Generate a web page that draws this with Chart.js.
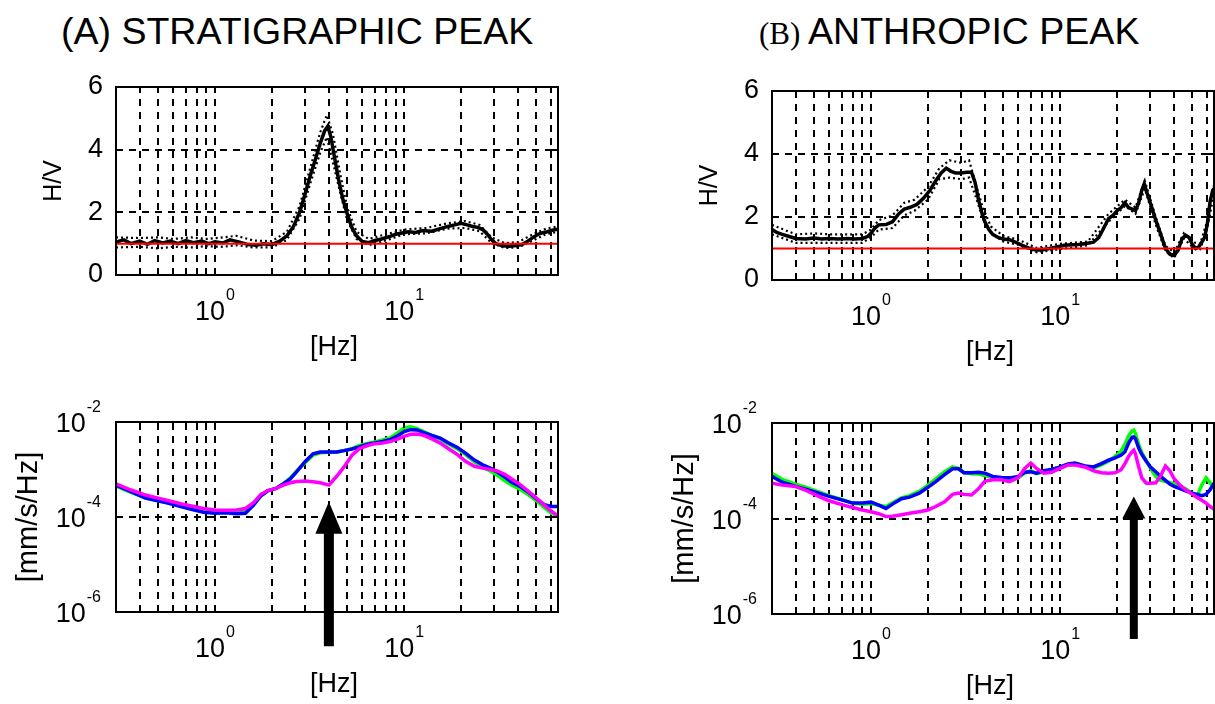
<!DOCTYPE html>
<html lang="en">
<head>
<meta charset="utf-8">
<title>H/V peaks</title>
<script src="https://cdn.jsdelivr.net/npm/chart.js@4.4.1/dist/chart.umd.min.js"></script>
<style>
    html, body { margin: 0; padding: 0; background: #fff; overflow: hidden; }
    body { position: relative; width: 1215px; height: 704px; }
    canvas { position: absolute; }
    .title { position: absolute; top: 13px; font: 37.5px/37px "Liberation Sans", Arial, sans-serif; color: #000; white-space: nowrap; }
    .title .tag { font-family: "Liberation Serif", "Times New Roman", serif; font-size: 31px; }
</style>
</head>
<body>
<div class="title" style="left: 61px;">(A) STRATIGRAPHIC PEAK</div>
<div class="title" style="left: 759px;"><span class="tag">(B) </span>ANTHROPIC PEAK</div>
<canvas id="hv-a"></canvas>
<canvas id="hv-b"></canvas>
<canvas id="psd-a"></canvas>
<canvas id="psd-b"></canvas>
<script>
// frequency axis, shared by every panel
const hzMin = 0.3;
const hzMax = 65;
const hzTicks = [0.4, 0.5, 0.6, 0.7, 0.8, 0.9, 1, 2, 3, 4, 5, 6, 7, 8, 9, 10, 20, 30, 40, 50, 60];
const hzLabelValues = [1, 10];
const hzLabelPowers = ['0', '1'];

// H/V axis
const hvTicks = [0, 2, 4, 6];
const hvLabels = ['0', '2', '4', '6'];
const hvUnit = [1, 1];

// spectrum axis
const psdTicks = [1e-6, 1e-4, 1e-2];
const psdLabelPowers = ['-6', '-4', '-2'];

// (A) H/V curve
const freqA = [0.3, 0.33, 0.36, 0.4, 0.44, 0.48, 0.53, 0.58, 0.64, 0.7,
    0.77, 0.85, 0.93, 1.0, 1.1, 1.2, 1.35, 1.5, 1.65, 1.8,
    2.0, 2.2, 2.4, 2.6, 2.8, 3.0, 3.2, 3.4, 3.6, 3.8,
    3.95, 4.1, 4.3, 4.5, 4.75, 5.0, 5.3, 5.6, 6.0, 6.5,
    7.0, 7.6, 8.3, 9.0, 9.6, 10.5, 11.5, 12.5, 14, 15.5,
    17, 18.5, 20, 21.5, 23, 24.5, 26, 27.5, 29, 30.5,
    33, 36, 39, 42, 45, 48, 51, 54, 57, 60,
    63, 65];
const hvA = [1.05, 1.12, 1.0, 1.08, 0.98, 1.1, 1.02, 1.08, 1.0, 1.1,
    1.03, 1.08, 1.0, 1.06, 1.02, 1.12, 1.05, 0.97, 0.95, 1.0,
    0.97, 1.08, 1.25, 1.55, 2.0, 2.6, 3.2, 3.7, 4.2, 4.6,
    4.75, 4.4, 3.7, 3.05, 2.4, 1.95, 1.5, 1.25, 1.07, 1.03,
    1.1, 1.15, 1.22, 1.3, 1.33, 1.38, 1.36, 1.42, 1.4, 1.48,
    1.55, 1.6, 1.65, 1.6, 1.55, 1.52, 1.45, 1.3, 1.12, 1.0,
    0.93, 0.92, 0.94, 0.97, 1.08, 1.2, 1.3, 1.35, 1.38, 1.42,
    1.45, 1.45];
const freqAStd = [0.3, 0.4, 0.5, 0.6, 0.75, 0.9, 1.1, 1.3, 1.6, 2.0,
    2.4, 2.8, 3.2, 3.6, 3.9, 4.2, 4.6, 5.0, 5.6, 6.5,
    8, 10, 13, 17, 21, 25, 29, 34, 40, 48,
    56, 65];
const hvAUpper = [1.2, 1.18, 1.2, 1.15, 1.2, 1.15, 1.2, 1.25, 1.1, 1.08,
    1.38, 2.2, 3.45, 4.55, 5.1, 4.5, 3.2, 2.15, 1.38, 1.15,
    1.3, 1.45, 1.5, 1.65, 1.72, 1.6, 1.2, 1.02, 1.05, 1.3,
    1.48, 1.55];
const hvALower = [0.88, 0.9, 0.85, 0.9, 0.88, 0.92, 0.9, 0.95, 0.88, 0.88,
    1.12, 1.8, 2.95, 3.9, 4.4, 3.6, 2.6, 1.75, 1.15, 0.95,
    1.1, 1.3, 1.33, 1.48, 1.5, 1.4, 1.02, 0.86, 0.88, 1.1,
    1.3, 1.38];

// (B) H/V curve
const freqB = [0.3, 0.32, 0.34, 0.37, 0.4, 0.45, 0.5, 0.55, 0.6, 0.67,
    0.75, 0.82, 0.9, 0.96, 1.0, 1.05, 1.1, 1.2, 1.3, 1.4,
    1.5, 1.6, 1.75, 1.9, 2.05, 2.2, 2.35, 2.5, 2.65, 2.8,
    3.0, 3.2, 3.4, 3.55, 3.7, 3.85, 4.0, 4.2, 4.4, 4.7,
    5.0, 5.4, 5.8, 6.3, 6.8, 7.4, 8.0, 8.8, 9.6, 10.5,
    11.5, 12.5, 13.7, 15, 16, 17, 18, 19, 20, 21,
    22, 23, 24, 25, 26, 27, 27.8, 29, 30.5, 32,
    34, 36, 38, 40, 42, 44, 46, 48, 50, 52,
    54, 56, 58, 60, 62, 64, 65];
const hvB = [1.6, 1.5, 1.45, 1.38, 1.32, 1.3, 1.33, 1.3, 1.32, 1.3,
    1.32, 1.3, 1.32, 1.38, 1.48, 1.65, 1.75, 1.76, 1.85, 2.1,
    2.25, 2.3, 2.4, 2.6, 2.85, 3.15, 3.4, 3.55, 3.45, 3.4,
    3.4, 3.42, 3.42, 3.1, 2.55, 2.15, 1.85, 1.6, 1.45, 1.35,
    1.3, 1.28, 1.2, 1.1, 1.02, 0.95, 0.95, 1.0, 1.05, 1.1,
    1.12, 1.13, 1.16, 1.2, 1.35, 1.65, 1.95, 2.05, 2.2, 2.3,
    2.45, 2.3, 2.25, 2.2, 2.45, 2.85, 3.05, 2.7, 2.3, 1.9,
    1.45, 1.0, 0.82, 0.78, 0.95, 1.3, 1.42, 1.35, 1.12, 1.0,
    1.05, 1.2, 1.35, 1.8, 2.5, 2.85, 2.9];
const freqBStd = [0.3, 0.4, 0.5, 0.6, 0.75, 0.9, 1.0, 1.1, 1.3, 1.5,
    1.7, 2.0, 2.3, 2.6, 3.0, 3.3, 3.6, 3.9, 4.3, 5,
    6, 7.5, 10, 14, 18, 22, 25, 28, 32, 36,
    40, 45, 50, 55, 60, 65];
const hvBUpper = [1.75, 1.45, 1.48, 1.45, 1.45, 1.45, 1.6, 1.9, 2.05, 2.45,
    2.55, 2.95, 3.55, 3.8, 3.72, 3.8, 3.0, 2.3, 1.7, 1.4,
    1.28, 1.02, 1.15, 1.22, 2.1, 2.55, 2.3, 3.15, 2.0, 1.08,
    0.88, 1.48, 1.2, 1.15, 1.9, 3.0];
const hvBLower = [1.45, 1.18, 1.18, 1.18, 1.18, 1.18, 1.35, 1.6, 1.65, 2.05,
    2.2, 2.55, 3.2, 3.25, 3.2, 3.25, 2.6, 1.95, 1.5, 1.22,
    1.12, 0.88, 0.98, 1.1, 1.85, 2.35, 2.1, 2.9, 1.75, 0.92,
    0.7, 1.32, 1.05, 0.98, 1.65, 2.75];

// (A) spectra, mm/s/Hz
const freqSA = [0.3, 0.36, 0.43, 0.5, 0.57, 0.66, 0.75, 0.87, 1.0, 1.15,
    1.3, 1.45, 1.6, 1.75, 1.9, 2.1, 2.3, 2.5, 2.7, 3.0,
    3.3, 3.6, 4.0, 4.4, 4.8, 5.3, 5.8, 6.4, 7.0, 7.7,
    8.5, 9.3, 10, 10.8, 11.7, 12.7, 14, 15.5, 17, 19,
    21, 23.5, 26, 28.5, 31, 34, 37, 41, 45, 50,
    55, 60, 65];
const blueA = [4.7e-4, 3.4e-4, 2.5e-4, 2.2e-4, 1.95e-4, 1.66e-4, 1.45e-4, 1.26e-4, 1.2e-4, 1.23e-4,
    1.17e-4, 1.2e-4, 1.78e-4, 2.8e-4, 3.55e-4, 4.0e-4, 5.0e-4, 6.3e-4, 8.9e-4, 1.48e-3,
    2.14e-3, 2.34e-3, 2.34e-3, 2.34e-3, 2.5e-3, 2.7e-3, 3.0e-3, 3.4e-3, 3.6e-3, 3.9e-3,
    4.3e-3, 5.2e-3, 6.3e-3, 6.9e-3, 6.8e-3, 6.0e-3, 5.2e-3, 4.6e-3, 3.7e-3, 2.95e-3,
    2.24e-3, 1.58e-3, 1.26e-3, 1.07e-3, 8.9e-4, 6.9e-4, 5.4e-4, 4.4e-4, 3.4e-4, 2.4e-4,
    1.82e-4, 1.66e-4, 1.66e-4];
const greenA = [4.5e-4, 3.3e-4, 2.5e-4, 2.2e-4, 2.0e-4, 1.74e-4, 1.51e-4, 1.38e-4, 1.26e-4, 1.26e-4,
    1.26e-4, 1.32e-4, 1.86e-4, 2.8e-4, 3.55e-4, 4.0e-4, 5.0e-4, 6.6e-4, 9.3e-4, 1.41e-3,
    2.0e-3, 2.24e-3, 2.3e-3, 2.3e-3, 2.5e-3, 2.75e-3, 3.2e-3, 3.55e-3, 3.8e-3, 4.2e-3,
    4.7e-3, 6.0e-3, 7.6e-3, 7.9e-3, 7.2e-3, 6.3e-3, 5.2e-3, 4.4e-3, 3.5e-3, 2.75e-3,
    2.1e-3, 1.45e-3, 1.12e-3, 9.3e-4, 7.6e-4, 5.75e-4, 4.7e-4, 3.8e-4, 3.0e-4, 2.2e-4,
    1.58e-4, 1.2e-4, 1.05e-4];
const magentaA = [5.0e-4, 3.7e-4, 2.9e-4, 2.5e-4, 2.2e-4, 1.9e-4, 1.7e-4, 1.51e-4, 1.41e-4, 1.38e-4,
    1.41e-4, 1.51e-4, 2.0e-4, 3.0e-4, 3.6e-4, 4.0e-4, 4.7e-4, 5.25e-4, 5.6e-4, 5.75e-4,
    5.5e-4, 5.25e-4, 4.7e-4, 7.2e-4, 1.12e-3, 2.0e-3, 2.75e-3, 3.2e-3, 3.5e-3, 3.6e-3,
    3.9e-3, 4.4e-3, 5.0e-3, 5.5e-3, 5.6e-3, 5.25e-3, 4.4e-3, 3.6e-3, 2.8e-3, 2.1e-3,
    1.51e-3, 1.17e-3, 1.07e-3, 1.0e-3, 9.3e-4, 7.9e-4, 6.3e-4, 4.8e-4, 3.55e-4, 2.5e-4,
    1.78e-4, 1.32e-4, 1.05e-4];

// (B) spectra, mm/s/Hz
const freqSB = [0.3, 0.34, 0.4, 0.46, 0.53, 0.6, 0.7, 0.8, 0.9, 1.0,
    1.1, 1.2, 1.3, 1.45, 1.6, 1.8, 2.0, 2.2, 2.45, 2.7,
    2.9, 3.1, 3.4, 3.7, 4.0, 4.4, 4.9, 5.4, 6.0, 6.5,
    7.0, 7.5, 8.2, 9.0, 10, 11, 12, 13.5, 15, 16.5,
    18, 19.5, 21, 22, 23, 24, 24.5, 25, 26, 27,
    28.5, 30, 32, 34, 36, 38, 40, 43, 46, 50,
    53, 56, 59, 62, 65];
const blueB = [7.6e-4, 5.75e-4, 4.7e-4, 4.0e-4, 3.4e-4, 2.9e-4, 2.45e-4, 2.1e-4, 2.1e-4, 2.2e-4,
    1.9e-4, 1.62e-4, 2.0e-4, 2.6e-4, 2.8e-4, 3.4e-4, 4.5e-4, 5.9e-4, 8.3e-4, 1.1e-3,
    1.1e-3, 9.1e-4, 9.1e-4, 9.3e-4, 8.9e-4, 7.6e-4, 7.2e-4, 7.1e-4, 7.6e-4, 9.3e-4,
    9.5e-4, 8.9e-4, 1.0e-3, 1.07e-3, 1.2e-3, 1.38e-3, 1.45e-3, 1.26e-3, 1.2e-3, 1.41e-3,
    1.66e-3, 1.86e-3, 2.14e-3, 2.5e-3, 3.8e-3, 5.0e-3, 5.1e-3, 4.7e-3, 3.0e-3, 2.2e-3,
    1.58e-3, 1.2e-3, 9.5e-4, 7.6e-4, 6.3e-4, 5.25e-4, 4.7e-4, 4.2e-4, 3.8e-4, 3.4e-4,
    3.2e-4, 3.0e-4, 3.2e-4, 4.0e-4, 5.5e-4];
const greenB = [8.7e-4, 6.6e-4, 5.25e-4, 4.4e-4, 3.6e-4, 3.0e-4, 2.5e-4, 2.1e-4, 2.0e-4, 2.05e-4,
    1.9e-4, 1.78e-4, 2.14e-4, 2.7e-4, 3.0e-4, 3.7e-4, 5.0e-4, 6.8e-4, 9.5e-4, 1.2e-3,
    1.12e-3, 9.1e-4, 8.7e-4, 8.5e-4, 7.9e-4, 7.2e-4, 6.9e-4, 6.3e-4, 7.1e-4, 8.9e-4,
    1.0e-3, 8.7e-4, 9.5e-4, 1.05e-3, 1.17e-3, 1.32e-3, 1.38e-3, 1.26e-3, 1.15e-3, 1.32e-3,
    1.58e-3, 2.0e-3, 2.6e-3, 3.55e-3, 5.4e-3, 6.9e-3, 7.1e-3, 6.0e-3, 3.55e-3, 2.4e-3,
    1.66e-3, 1.12e-3, 7.6e-4, 6.3e-4, 6.0e-4, 5.6e-4, 5.4e-4, 4.8e-4, 4.2e-4, 3.3e-4,
    3.0e-4, 5.0e-4, 7.1e-4, 5.6e-4, 4.5e-4];
const magentaB = [5.5e-4, 5.0e-4, 4.7e-4, 3.8e-4, 2.9e-4, 2.35e-4, 1.95e-4, 1.7e-4, 1.51e-4, 1.38e-4,
    1.26e-4, 1.1e-4, 1.12e-4, 1.2e-4, 1.29e-4, 1.38e-4, 1.51e-4, 1.78e-4, 2.24e-4, 3.2e-4,
    3.4e-4, 3.2e-4, 3.1e-4, 4.2e-4, 6.0e-4, 6.5e-4, 6.5e-4, 5.9e-4, 7.2e-4, 1.12e-3,
    1.45e-3, 1.12e-3, 8.9e-4, 9.3e-4, 1.12e-3, 1.32e-3, 1.32e-3, 1.2e-3, 1.0e-3, 9.1e-4,
    8.9e-4, 9.1e-4, 1.05e-3, 1.41e-3, 2.0e-3, 2.5e-3, 2.7e-3, 2.24e-3, 1.2e-3, 7.1e-4,
    5.5e-4, 5.5e-4, 5.6e-4, 7.9e-4, 1.26e-3, 1.0e-3, 6.8e-4, 5.0e-4, 4.0e-4, 3.2e-4,
    2.75e-4, 2.4e-4, 2.1e-4, 1.78e-4, 1.58e-4];

// arrows marking the peak on each spectrum panel
const arrowA = { hz: 4.0, tip: 2.1e-4, tail: 1.9e-7 };
const arrowB = { hz: 24.5, tip: 2.9e-4, tail: 3.0e-7 };

// plot boxes on the page
const boxes = {
    hvA:  { left: 116, top: 87,  width: 442, height: 188 },
    hvB:  { left: 772, top: 91,  width: 442, height: 189 },
    psdA: { left: 116, top: 422, width: 442, height: 190 },
    psdB: { left: 772, top: 423, width: 442, height: 191 }
};
const PAD = { left: 110, top: 40, right: 10, bottom: 100 };
const SANS = '"Liberation Sans", Arial, sans-serif';

function pts(xs, ys) {
    return xs.map((x, i) => ({ x, y: ys[i] }));
}

// "10" with a raised exponent, the way the axis labels are written
function drawPower(ctx, x, baseline, sup, align) {
    ctx.font = `27px ${SANS}`;
    const wBase = ctx.measureText('10').width;
    ctx.font = `16px ${SANS}`;
    const wSup = ctx.measureText(sup).width;
    const total = wBase + 1 + wSup;
    const start = align === 'right' ? x - total : x - total / 2;
    ctx.textAlign = 'left';
    ctx.textBaseline = 'alphabetic';
    ctx.font = `27px ${SANS}`;
    ctx.fillText('10', start, baseline);
    ctx.font = `16px ${SANS}`;
    ctx.fillText(sup, start + wBase + 1, baseline - 20);
}

function framePlugin(cfg) {
    return {
        id: 'frame',
        beforeDatasetsDraw(chart) {
            const { ctx, chartArea: a, scales: { x, y } } = chart;
            ctx.save();
            ctx.strokeStyle = '#000';
            ctx.lineWidth = 2;
            ctx.setLineDash([7, 6]);
            ctx.beginPath();
            x.ticks.forEach(t => {
                const px = Math.round(x.getPixelForValue(t.value));
                ctx.moveTo(px, a.bottom);
                ctx.lineTo(px, a.top);
            });
            y.ticks.forEach(t => {
                if (t.value <= y.min || t.value >= y.max) return;
                const py = Math.round(y.getPixelForValue(t.value));
                ctx.moveTo(a.left, py);
                ctx.lineTo(a.right, py);
            });
            ctx.stroke();
            ctx.restore();
        },
        afterDatasetsDraw(chart) {
            const { ctx, chartArea: a, scales: { x, y } } = chart;
            ctx.save();
            ctx.strokeStyle = '#000';
            ctx.fillStyle = '#000';
            ctx.setLineDash([]);
            ctx.lineWidth = 2;
            ctx.strokeRect(a.left, a.top, a.right - a.left, a.bottom - a.top);

            // inward tick marks
            ctx.beginPath();
            x.ticks.forEach(t => {
                const px = Math.round(x.getPixelForValue(t.value));
                ctx.moveTo(px, a.bottom); ctx.lineTo(px, a.bottom - 6);
                ctx.moveTo(px, a.top); ctx.lineTo(px, a.top + 6);
            });
            y.ticks.forEach(t => {
                const py = Math.round(y.getPixelForValue(t.value));
                ctx.moveTo(a.left, py); ctx.lineTo(a.left + 6, py);
                ctx.moveTo(a.right, py); ctx.lineTo(a.right - 6, py);
            });
            ctx.stroke();

            hzLabelValues.forEach((v, i) => {
                drawPower(ctx, x.getPixelForValue(v), a.bottom + 45, hzLabelPowers[i], 'center');
            });

            if (cfg.kind === 'hv') {
                ctx.font = `27px ${SANS}`;
                ctx.textAlign = 'right';
                ctx.textBaseline = 'middle';
                hvTicks.forEach((v, i) => ctx.fillText(hvLabels[i], a.left - 13, y.getPixelForValue(v)));
            } else {
                psdTicks.forEach((v, i) => {
                    drawPower(ctx, a.left - 15, y.getPixelForValue(v) + 10, psdLabelPowers[i], 'right');
                });
            }

            const cx = (a.left + a.right) / 2;
            const cy = (a.top + a.bottom) / 2;
            ctx.font = `27px ${SANS}`;
            ctx.textAlign = 'center';
            ctx.textBaseline = 'middle';
            ctx.fillText('[Hz]', cx - 3, a.bottom + 73);

            ctx.save();
            ctx.translate(a.left - cfg.titleOffset, cy);
            ctx.rotate(-Math.PI / 2);
            ctx.font = `${cfg.titleSize}px ${SANS}`;
            ctx.fillText(cfg.yTitle, 0, 0);
            ctx.restore();

            if (cfg.arrow) {
                const ar = cfg.arrow;
                const px = x.getPixelForValue(ar.hz);
                const ty = y.getPixelForValue(ar.tip);
                const by = y.getPixelForValue(ar.tail);
                const hb = ty + cfg.head;
                ctx.beginPath();
                ctx.moveTo(px, ty);
                ctx.lineTo(px + cfg.headWidth / 2, hb);
                ctx.lineTo(px + cfg.shaft / 2, hb);
                ctx.lineTo(px + cfg.shaft / 2, by);
                ctx.lineTo(px - cfg.shaft / 2, by);
                ctx.lineTo(px - cfg.shaft / 2, hb);
                ctx.lineTo(px - cfg.headWidth / 2, hb);
                ctx.closePath();
                ctx.fill();
            }
            ctx.restore();
        }
    };
}

function makeChart(id, box, yScale, datasets, cfg) {
    const canvas = document.getElementById(id);
    canvas.width = box.width + PAD.left + PAD.right;
    canvas.height = box.height + PAD.top + PAD.bottom;
    canvas.style.left = (box.left - PAD.left) + 'px';
    canvas.style.top = (box.top - PAD.top) + 'px';

    return new Chart(canvas, {
        type: 'line',
        data: { datasets },
        options: {
            responsive: false,
            animation: false,
            devicePixelRatio: 1,
            layout: { padding: { left: 0, top: PAD.top, right: PAD.right, bottom: 0 } },
            plugins: { legend: { display: false }, tooltip: { enabled: false } },
            elements: { point: { radius: 0 }, line: { tension: 0, fill: false } },
            scales: {
                x: {
                    type: 'logarithmic',
                    min: hzMin,
                    max: hzMax,
                    grid: { display: false },
                    border: { display: false },
                    ticks: { display: false },
                    afterBuildTicks: s => { s.ticks = hzTicks.map(v => ({ value: v })); },
                    afterFit: s => { s.height = PAD.bottom; }
                },
                y: Object.assign({
                    grid: { display: false },
                    border: { display: false },
                    ticks: { display: false },
                    afterFit: s => { s.width = PAD.left; }
                }, yScale)
            }
        },
        plugins: [framePlugin(cfg)]
    });
}

function hvDatasets(freq, hv, freqStd, upper, lower) {
    return [
        { data: pts([hzMin, hzMax], hvUnit), borderColor: '#ff0000', borderWidth: 2 },
        { data: pts(freq, hv), borderColor: '#000', borderWidth: 3.5 },
        { data: pts(freqStd, upper), borderColor: '#000', borderWidth: 2.2, borderDash: [2, 3] },
        { data: pts(freqStd, lower), borderColor: '#000', borderWidth: 2.2, borderDash: [2, 3] }
    ];
}

function psdDatasets(freq, magenta, blue, green) {
    return [
        { data: pts(freq, magenta), borderColor: '#ff00ff', borderWidth: 3.5 },
        { data: pts(freq, blue), borderColor: '#0000ff', borderWidth: 3.5 },
        { data: pts(freq, green), borderColor: '#00ff00', borderWidth: 3.5 }
    ];
}

const hvScale = {
    type: 'linear', min: 0, max: 6,
    afterBuildTicks: s => { s.ticks = hvTicks.map(v => ({ value: v })); }
};
const psdScale = {
    type: 'logarithmic', min: 1e-6, max: 1e-2,
    afterBuildTicks: s => { s.ticks = psdTicks.map(v => ({ value: v })); }
};

const hvText = { kind: 'hv', yTitle: 'H/V', titleOffset: 62, titleSize: 25 };
const psdText = { kind: 'psd', yTitle: '[mm/s/Hz]', titleOffset: 87, titleSize: 29 };

makeChart('hv-a', boxes.hvA, hvScale, hvDatasets(freqA, hvA, freqAStd, hvAUpper, hvALower), hvText);
makeChart('hv-b', boxes.hvB, hvScale, hvDatasets(freqB, hvB, freqBStd, hvBUpper, hvBLower), hvText);
makeChart('psd-a', boxes.psdA, psdScale, psdDatasets(freqSA, magentaA, blueA, greenA),
    Object.assign({ arrow: arrowA, head: 32, headWidth: 27, shaft: 10 }, psdText));
makeChart('psd-b', boxes.psdB, psdScale, psdDatasets(freqSB, magentaB, blueB, greenB),
    Object.assign({ arrow: arrowB, head: 22, headWidth: 23, shaft: 8 }, psdText));
</script>
</body>
</html>
